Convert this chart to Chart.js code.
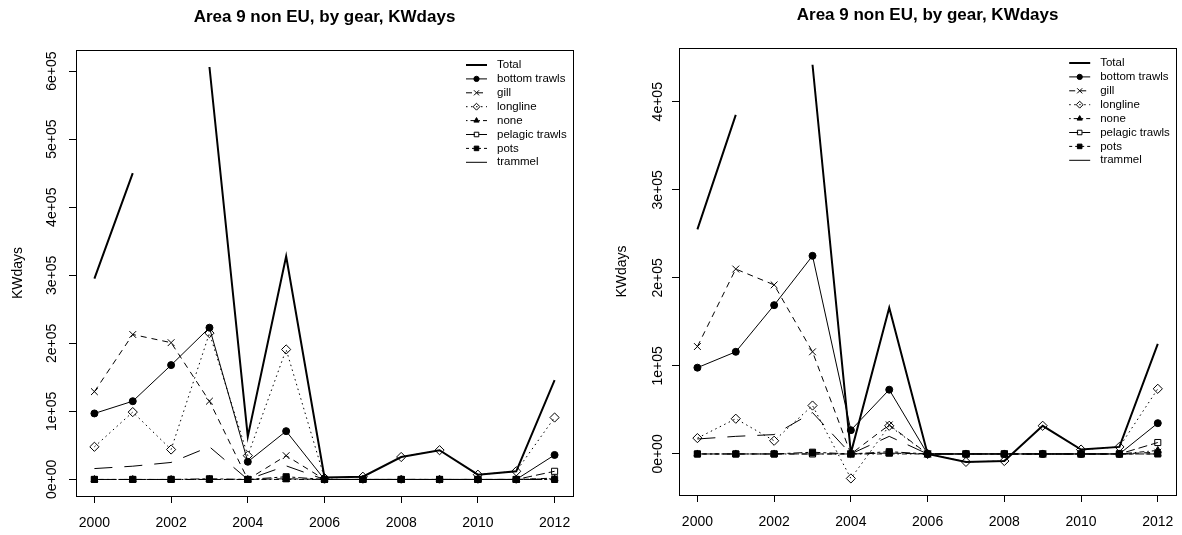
<!DOCTYPE html>
<html>
<head>
<meta charset="utf-8">
<title>Area 9 non EU, by gear, KWdays</title>
<script src="https://cdn.jsdelivr.net/npm/chart.js@4.4.1/dist/chart.umd.min.js"></script>
<style>
  body { margin: 0; background: #fff; }
  .panel { position: absolute; top: 0; width: 591px; height: 535px; }
  #left { left: 0; }
  #right { left: 591px; }
</style>
</head>
<body>
<div class="panel" id="left"><canvas id="chartLeft" width="591" height="535"></canvas></div>
<div class="panel" id="right"><canvas id="chartRight" width="591" height="535"></canvas></div>
<script>
var years = [2000, 2001, 2002, 2003, 2004, 2005, 2006, 2007, 2008, 2009, 2010, 2011, 2012];
var gears = ['Total', 'bottom trawls', 'gill', 'longline', 'none', 'pelagic trawls', 'pots', 'trammel'];
var xTicks = [2000, 2002, 2004, 2006, 2008, 2010, 2012];
var xTickLabels = ['2000', '2002', '2004', '2006', '2008', '2010', '2012'];

// left panel
var totalLeft    = [295000, 450000, null, 606000, 63000, 328000, 3000, 4000, 33000, 43000, 7000, 12000, 146000];
var bottomLeft   = [97000, 115000, 168000, 223000, 26000, 71000, 0, 0, 0, 0, 0, 0, 36000];
var gillLeft     = [129000, 213000, 201000, 115000, 0, 35000, 0, 0, 0, 0, 0, 0, 2000];
var longlineLeft = [48000, 99000, 44000, 215000, 35000, 191000, 2000, 4000, 33000, 43000, 7000, 12000, 91000];
var noneLeft     = [0, 0, 0, 0, 0, 0, 0, 0, 0, 0, 0, 0, 1000];
var pelagicLeft  = [0, 0, 0, 0, 0, 1000, 0, 0, 0, 0, 0, 0, 12000];
var potsLeft     = [0, 0, 0, 1000, 0, 4000, 0, 0, 0, 0, 0, 0, 0];
var trammelLeft  = [16000, 19500, 25000, 48000, 0, 20000, 0, 0, 0, 0, 0, 0, 0];
var yTicksLeft = [0, 100000, 200000, 300000, 400000, 500000, 600000];
var yTickLabelsLeft = ['0e+00', '1e+05', '2e+05', '3e+05', '4e+05', '5e+05', '6e+05'];

// right panel
var totalRight    = [255000, 385000, null, 442000, 1000, 166000, 0, -9000, -8000, 32000, 5000, 8000, 125000];
var bottomRight   = [98000, 116000, 169000, 225000, 27000, 73000, 0, 0, 0, 0, 0, 0, 35000];
var gillRight     = [122000, 210000, 192000, 116000, 0, 33000, 0, 0, 0, 0, 0, 0, 2000];
var longlineRight = [18000, 40000, 15000, 55000, -27800, 32000, 0, -9000, -8000, 32000, 5000, 8000, 74000];
var noneRight     = [0, 0, 0, 0, 0, 0, 0, 0, 0, 0, 0, 0, 4000];
var pelagicRight  = [0, 0, 0, 0, 0, 1000, 0, 0, 0, 0, 0, 0, 13000];
var potsRight     = [0, 0, 0, 2000, 0, 2600, 0, 0, 0, 0, 0, 0, 0];
var trammelRight  = [17000, 20000, 22000, 47000, 0, 20000, 0, 0, 0, 0, 0, 0, 0];
var yTicksRight = [0, 100000, 200000, 300000, 400000];
var yTickLabelsRight = ['0e+00', '1e+05', '2e+05', '3e+05', '4e+05'];

var FONT = '"Liberation Sans", Arial, Helvetica, sans-serif';
var CLEAR = 'rgba(0,0,0,0)';

// R style line types / plotting symbols, one per gear
var lineStyles = [
    {width: 2, dash: [], point: false},
    {width: 1, dash: [], point: 'circle', radius: 3.5, fill: '#000'},
    {width: 1, dash: [6, 5], point: 'crossRot', radius: 4.8, fill: CLEAR},
    {width: 1, dash: [1.5, 3.5], point: 'rectRot', radius: 4.6, fill: CLEAR},
    {width: 1, dash: [1.5, 3, 5, 3], point: 'triangle', radius: 4, fill: '#000'},
    {width: 1, dash: [9, 4], point: 'rect', radius: 4.3, fill: CLEAR},
    {width: 1, dash: [3, 3, 9, 3], point: 'rect', radius: 4.3, fill: '#000'},
    {width: 1, dash: [18, 12], point: false}
];

Chart.defaults.font.family = FONT;
Chart.defaults.font.size = 14;
Chart.defaults.color = '#000';

var rBox = {
    id: 'rBox',
    afterDatasetsDraw: function (chart) {
        var a = chart.chartArea, ctx = chart.ctx;
        ctx.save();
        ctx.strokeStyle = '#000';
        ctx.lineWidth = 1;
        ctx.strokeRect(Math.floor(a.left) + 0.5, Math.floor(a.top) + 0.5,
            Math.round(a.right - a.left), Math.round(a.bottom - a.top));
        ctx.restore();
    }
};

// y tick labels are rotated like R's default las = 0
var rYLabels = {
    id: 'rYLabels',
    afterDraw: function (chart, args, opts) {
        var scale = chart.scales.y, ctx = chart.ctx;
        ctx.save();
        ctx.fillStyle = '#000';
        ctx.font = '14px ' + FONT;
        ctx.textAlign = 'center';
        ctx.textBaseline = 'middle';
        opts.ticks.forEach(function (v, i) {
            ctx.save();
            ctx.translate(chart.chartArea.left - opts.offset, scale.getPixelForValue(v));
            ctx.rotate(-Math.PI / 2);
            ctx.fillText(opts.labels[i], 0, 0);
            ctx.restore();
        });
        ctx.restore();
    }
};

var rLegend = {
    id: 'rLegend',
    afterDatasetsDraw: function (chart) {
        var ctx = chart.ctx, area = chart.chartArea;
        ctx.save();
        chart.data.datasets.forEach(function (ds, i) {
            var st = lineStyles[i];
            var y = area.top + 15 + i * 13.9;
            var x0 = area.right - 107, x1 = area.right - 86;
            ctx.strokeStyle = '#000';
            ctx.lineWidth = st.width;
            ctx.setLineDash(i === 7 ? [] : st.dash);
            ctx.beginPath();
            ctx.moveTo(x0, y);
            ctx.lineTo(x1, y);
            ctx.stroke();
            ctx.setLineDash([]);
            if (st.point) {
                ctx.fillStyle = st.fill;
                ctx.lineWidth = 1;
                Chart.helpers.drawPoint(ctx, {pointStyle: st.point, radius: st.radius * 0.75, borderWidth: 1, rotation: 0}, (x0 + x1) / 2, y);
            }
            ctx.fillStyle = '#000';
            ctx.font = '11.5px ' + FONT;
            ctx.textAlign = 'left';
            ctx.textBaseline = 'middle';
            ctx.fillText(ds.label, area.right - 76, y);
        });
        ctx.restore();
    }
};

function makeDatasets(series) {
    return series.map(function (vals, i) {
        var st = lineStyles[i];
        return {
            label: gears[i],
            data: years.map(function (yr, j) { return {x: yr, y: vals[j]}; }),
            borderColor: '#000',
            borderWidth: st.width,
            borderDash: st.dash,
            tension: 0,
            fill: false,
            spanGaps: false,
            pointStyle: st.point || 'circle',
            pointRadius: st.point ? st.radius : 0,
            pointBackgroundColor: st.fill || CLEAR,
            pointBorderColor: '#000',
            pointBorderWidth: 1,
            order: lineStyles.length - i
        };
    });
}

function drawPanel(canvasId, series, yMin, yMax, yTicks, yTickLabels, g) {
    const ctx = document.getElementById(canvasId).getContext('2d');
    return new Chart(ctx, {
        type: 'line',
        data: { datasets: makeDatasets(series) },
        plugins: [rBox, rYLabels, rLegend],
        options: {
            responsive: false,
            animation: false,
            events: [],
            layout: { padding: { left: 0, right: g.padRight, top: 0, bottom: 0 } },
            plugins: {
                legend: { display: false },
                tooltip: { enabled: false },
                title: {
                    display: true,
                    text: 'Area 9 non EU, by gear, KWdays',
                    fullSize: false,
                    color: '#000',
                    font: { size: 17, weight: 'bold', lineHeight: 1.2 },
                    padding: { top: g.titleTop, bottom: g.titleBottom }
                },
                rYLabels: { ticks: yTicks, labels: yTickLabels, offset: g.yLabelOffset }
            },
            scales: {
                x: {
                    type: 'linear',
                    min: 1999.52,
                    max: 2012.48,
                    afterBuildTicks: function (s) { s.ticks = xTicks.map(function (v) { return {value: v}; }); },
                    afterFit: function (s) { s.height = g.xHeight; s.paddingLeft = 0; s.paddingRight = 0; },
                    grid: { display: true, drawOnChartArea: false, drawTicks: true, tickLength: 7, color: '#000' },
                    border: { display: true, color: '#000' },
                    ticks: {
                        autoSkip: false, maxRotation: 0, padding: 12, color: '#000',
                        callback: function (v, i) { return xTickLabels[i]; }
                    }
                },
                y: {
                    type: 'linear',
                    position: 'left',
                    min: yMin,
                    max: yMax,
                    afterBuildTicks: function (s) { s.ticks = yTicks.map(function (v) { return {value: v}; }); },
                    afterFit: function (s) { s.width = g.yWidth; },
                    grid: { display: true, drawOnChartArea: false, drawTicks: true, tickLength: 7, color: '#000' },
                    border: { display: true, color: '#000' },
                    ticks: { display: false },
                    title: { display: true, text: 'KWdays', color: '#000', font: { size: 14 }, padding: { top: g.yTitlePad } }
                }
            }
        }
    });
}

drawPanel('chartLeft',
    [totalLeft, bottomLeft, gillLeft, longlineLeft, noneLeft, pelagicLeft, potsLeft, trammelLeft],
    -24300, 631000, yTicksLeft, yTickLabelsLeft,
    { padRight: 18, yWidth: 76, xHeight: 39, titleTop: 7, titleBottom: 22.6, yTitlePad: 9.6, yLabelOffset: 24 });

drawPanel('chartRight',
    [totalRight, bottomRight, gillRight, longlineRight, noneRight, pelagicRight, potsRight, trammelRight],
    -46600, 461000, yTicksRight, yTickLabelsRight,
    { padRight: 4, yWidth: 88, xHeight: 40, titleTop: 5.5, titleBottom: 22.1, yTitlePad: 22.6, yLabelOffset: 21 });
</script>
</body>
</html>
